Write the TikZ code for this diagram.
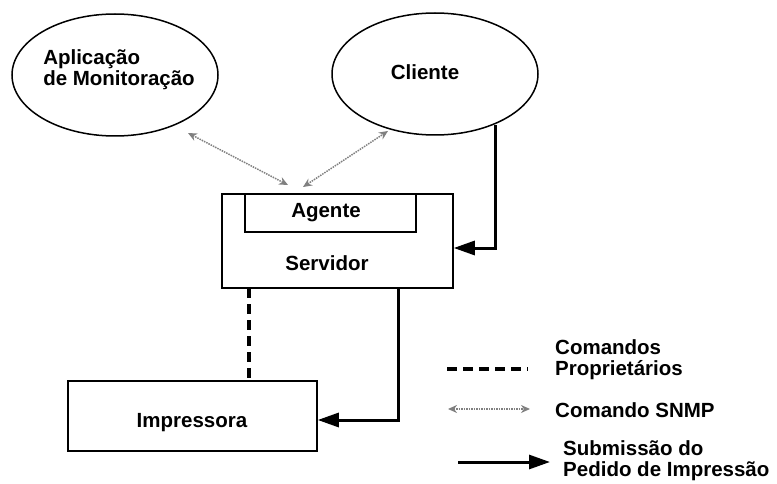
\documentclass[tikz,border=0pt]{standalone}
\usepackage{fontspec}
\setmainfont{Liberation Sans}
\usetikzlibrary{shapes.geometric,arrows.meta}
\begin{document}
\begin{tikzpicture}[x=1pt,y=-1pt,
  lbl/.style={font=\fontsize{20.5}{21}\selectfont\bfseries, inner sep=0pt, align=left},
  oval/.style={draw, ellipse, line width=1.5pt, minimum width=206pt, minimum height=122pt, inner sep=0pt},
  box/.style={draw, line width=1.5pt, inner sep=0pt},
  req/.style={line width=3pt, -{Triangle[length=21pt,width=14pt]}},
  prop/.style={line width=4pt, dash pattern=on 10pt off 6pt},
  snmp/.style={gray, line width=1.5pt, densely dotted, {Stealth[length=9pt,width=8pt]}-{Stealth[length=9pt,width=8pt]}}]
  \useasboundingbox (0,0) rectangle (777,484);

  % ellipses
  \node[oval] (app) at (115,75) {};
  \node[lbl] (apptxt) at (119,70) {Aplicação\\de Monitoração};
  \node[oval] (cli) at (435,74) {};
  \node[lbl] (clitxt) at (425,72) {Cliente};

  % server with its agent
  \node[box, minimum width=231pt, minimum height=94pt] (srv) at (337.5,241) {};
  \node[box, minimum width=171pt, minimum height=38pt] (agt) at (330.5,213) {};
  \node[lbl] (agttxt) at (326,213) {Agente};
  \node[lbl] (srvtxt) at (327,263) {Servidor};

  % printer
  \node[box, minimum width=249pt, minimum height=70pt] (prn) at (192.5,416) {};
  \node[lbl] (prntxt) at (192,423) {Impressora};

  % connection points
  \coordinate (cliout) at (495,125);
  \coordinate (cliturn) at (495,248);
  \coordinate (srvout) at (398,288);
  \coordinate (srvturn) at (398,420);
  \coordinate (appin) at (188,133);
  \coordinate (agtA) at (288,185);
  \coordinate (agtB) at (303,187);
  \coordinate (cliin) at (388,131);

  % request submission
  \draw[req] (cliout) -- (cliturn) -- (srv.east |- cliturn);
  \draw[req] (srvout) -- (srvturn) -- (prn.east |- srvturn);

  % proprietary commands
  \draw[prop] (249,288) -- (249,381);

  % SNMP commands
  \draw[snmp] (appin) -- (agtA);
  \draw[snmp] (agtB) -- (cliin);

  % legend
  \coordinate (l1a) at (447,369);
  \coordinate (l1b) at (528,369);
  \coordinate (l2a) at (448,409);
  \coordinate (l2b) at (530,409);
  \coordinate (l3a) at (458,462);
  \coordinate (l3b) at (550,462);
  \draw[prop] (l1a) -- (l1b);
  \draw[snmp] (l2a) -- (l2b);
  \draw[req] (l3a) -- (l3b);
  \node[lbl, anchor=west] (leg1) at (555,360) {Comandos\\Proprietários};
  \node[lbl, anchor=west] (leg2) at (555,410) {Comando SNMP};
  \node[lbl, anchor=west] (leg3) at (563,461) {Submissão do\\Pedido de Impressão};
\end{tikzpicture}
\end{document}
